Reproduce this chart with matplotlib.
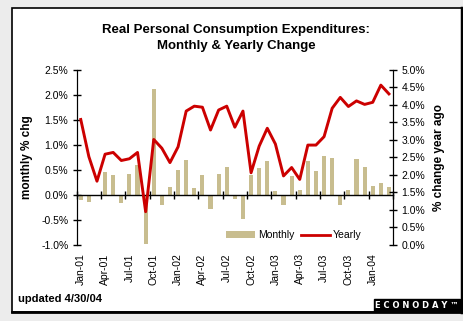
import numpy as np
import matplotlib
matplotlib.use('Agg')
import matplotlib.pyplot as plt
from matplotlib.patches import Rectangle, Patch
from matplotlib.lines import Line2D
from matplotlib.ticker import FuncFormatter

plt.rcParams['font.family'] = ['Liberation Sans', 'DejaVu Sans']

# monthly data, Jan-01 .. Mar-04
months = ['Jan-01', 'Feb-01', 'Mar-01', 'Apr-01', 'May-01', 'Jun-01', 'Jul-01', 'Aug-01', 'Sep-01',
          'Oct-01', 'Nov-01', 'Dec-01', 'Jan-02', 'Feb-02', 'Mar-02', 'Apr-02', 'May-02', 'Jun-02',
          'Jul-02', 'Aug-02', 'Sep-02', 'Oct-02', 'Nov-02', 'Dec-02', 'Jan-03', 'Feb-03', 'Mar-03',
          'Apr-03', 'May-03', 'Jun-03', 'Jul-03', 'Aug-03', 'Sep-03', 'Oct-03', 'Nov-03', 'Dec-03',
          'Jan-04', 'Feb-04', 'Mar-04']
monthly = [-0.10, -0.15, 0.0, 0.45, 0.39, -0.17, 0.42, 0.59, -0.98,
           2.11, -0.20, 0.16, 0.50, 0.70, 0.13, 0.40, -0.28, 0.42,
           0.56, -0.08, -0.48, 0.40, 0.54, 0.67, 0.07, -0.20, 0.38,
           0.09, 0.67, 0.47, 0.77, 0.73, -0.20, 0.09, 0.71, 0.56,
           0.17, 0.23, 0.15]
yearly = [3.58, 2.52, 1.82, 2.59, 2.64, 2.41, 2.46, 2.64, 0.95,
          3.01, 2.76, 2.35, 2.80, 3.82, 3.96, 3.93, 3.28, 3.85,
          3.96, 3.36, 3.82, 2.06, 2.82, 3.33, 2.88, 1.97, 2.21,
          1.87, 2.85, 2.85, 3.09, 3.90, 4.21, 3.95, 4.11, 4.01,
          4.07, 4.56, 4.31]
left_ticks = [-1.0, -0.5, 0.0, 0.5, 1.0, 1.5, 2.0, 2.5]
right_ticks = [0.0, 0.5, 1.0, 1.5, 2.0, 2.5, 3.0, 3.5, 4.0, 4.5, 5.0]

bar_color = '#C8BD8F'
line_color = '#CC0000'

fig = plt.figure(figsize=(4.64, 3.21), dpi=100, facecolor='#ECECEC')

# white panel with border
fig.patches.append(Rectangle((12/464, 9/321), 450/464, 304/321, transform=fig.transFigure,
                             facecolor='white', edgecolor='black', lw=1.2, zorder=-5))
fig.add_artist(Line2D([462/464, 462/464], [9/321, 313/321], color='black', lw=2.5))
fig.add_artist(Line2D([12/464, 463/464], [9/321, 9/321], color='black', lw=2))

ax = fig.add_axes([76.7/464, 76/321, 316.3/464, 175.3/321])
ax.set_facecolor('none')
x = np.arange(len(months))
ax.bar(x, monthly, width=0.5, color=bar_color, zorder=2)
ax.set_xlim(-0.5, len(months) - 0.5)
ax.set_ylim(-1.0, 2.5)
ax.set_yticks(left_ticks)
ax.yaxis.set_major_formatter(FuncFormatter(lambda v, p: '%.1f%%' % v))
ax.tick_params(axis='y', direction='inout', length=6, width=1, labelsize=7.5, pad=3)

# x axis drawn along zero
ax.spines['top'].set_visible(False)
ax.spines['bottom'].set_position(('data', 0))
ax.spines['bottom'].set_linewidth(1)
ax.set_xticks(np.arange(-0.5, len(months), 3))
ax.tick_params(axis='x', direction='inout', length=6, width=1, labelbottom=False)

# category labels below the plot
sec = ax.secondary_xaxis(0.0)
sec.set_xticks(x[::3], [months[i] for i in x[::3]])
sec.tick_params(length=0, labelsize=7.5, rotation=90, pad=6)
sec.spines['bottom'].set_visible(False)

ax.set_ylabel('monthly % chg', fontsize=8.5, fontweight='bold', labelpad=6)

ax2 = ax.twinx()
ax2.plot(x, yearly, color=line_color, lw=2.1)
ax2.set_ylim(0, 5)
ax2.set_yticks(right_ticks)
ax2.yaxis.set_major_formatter(FuncFormatter(lambda v, p: '%.1f%%' % v))
ax2.tick_params(axis='y', direction='inout', length=6, width=1, labelsize=7.5, pad=3)
ax2.spines['top'].set_visible(False)
ax2.spines['bottom'].set_visible(False)
ax2.set_ylabel('% change year ago', fontsize=8.5, fontweight='bold', rotation=90, labelpad=6)

handles = [Patch(facecolor=bar_color, edgecolor='none'),
           Line2D([0], [0], color=line_color, lw=2)]
ax2.legend(handles, ['Monthly', 'Yearly'], loc='center', bbox_to_anchor=(294/464, (321-235)/321),
           bbox_transform=fig.transFigure, ncol=2, frameon=False, fontsize=7.5,
           handlelength=2.8, handleheight=0.6, handletextpad=0.3, columnspacing=0.6)

fig.text(236/464, (321-38)/321, 'Real Personal Consumption Expenditures:\nMonthly & Yearly Change',
         ha='center', va='center', fontsize=9.5, fontweight='bold', linespacing=1.55)
fig.text(18/464, (321-299)/321, 'updated 4/30/04', ha='left', va='center', fontsize=8, fontweight='bold')
fig.text(417/464, (321-305)/321, 'E C O N O D A Y \u2122', ha='center', va='center', fontsize=6,
         fontweight='bold', color='white', family='DejaVu Sans',
         bbox=dict(boxstyle='square,pad=0.2', facecolor='black', edgecolor='black'))

fig.savefig('out.png', dpi=100, facecolor=fig.get_facecolor())
